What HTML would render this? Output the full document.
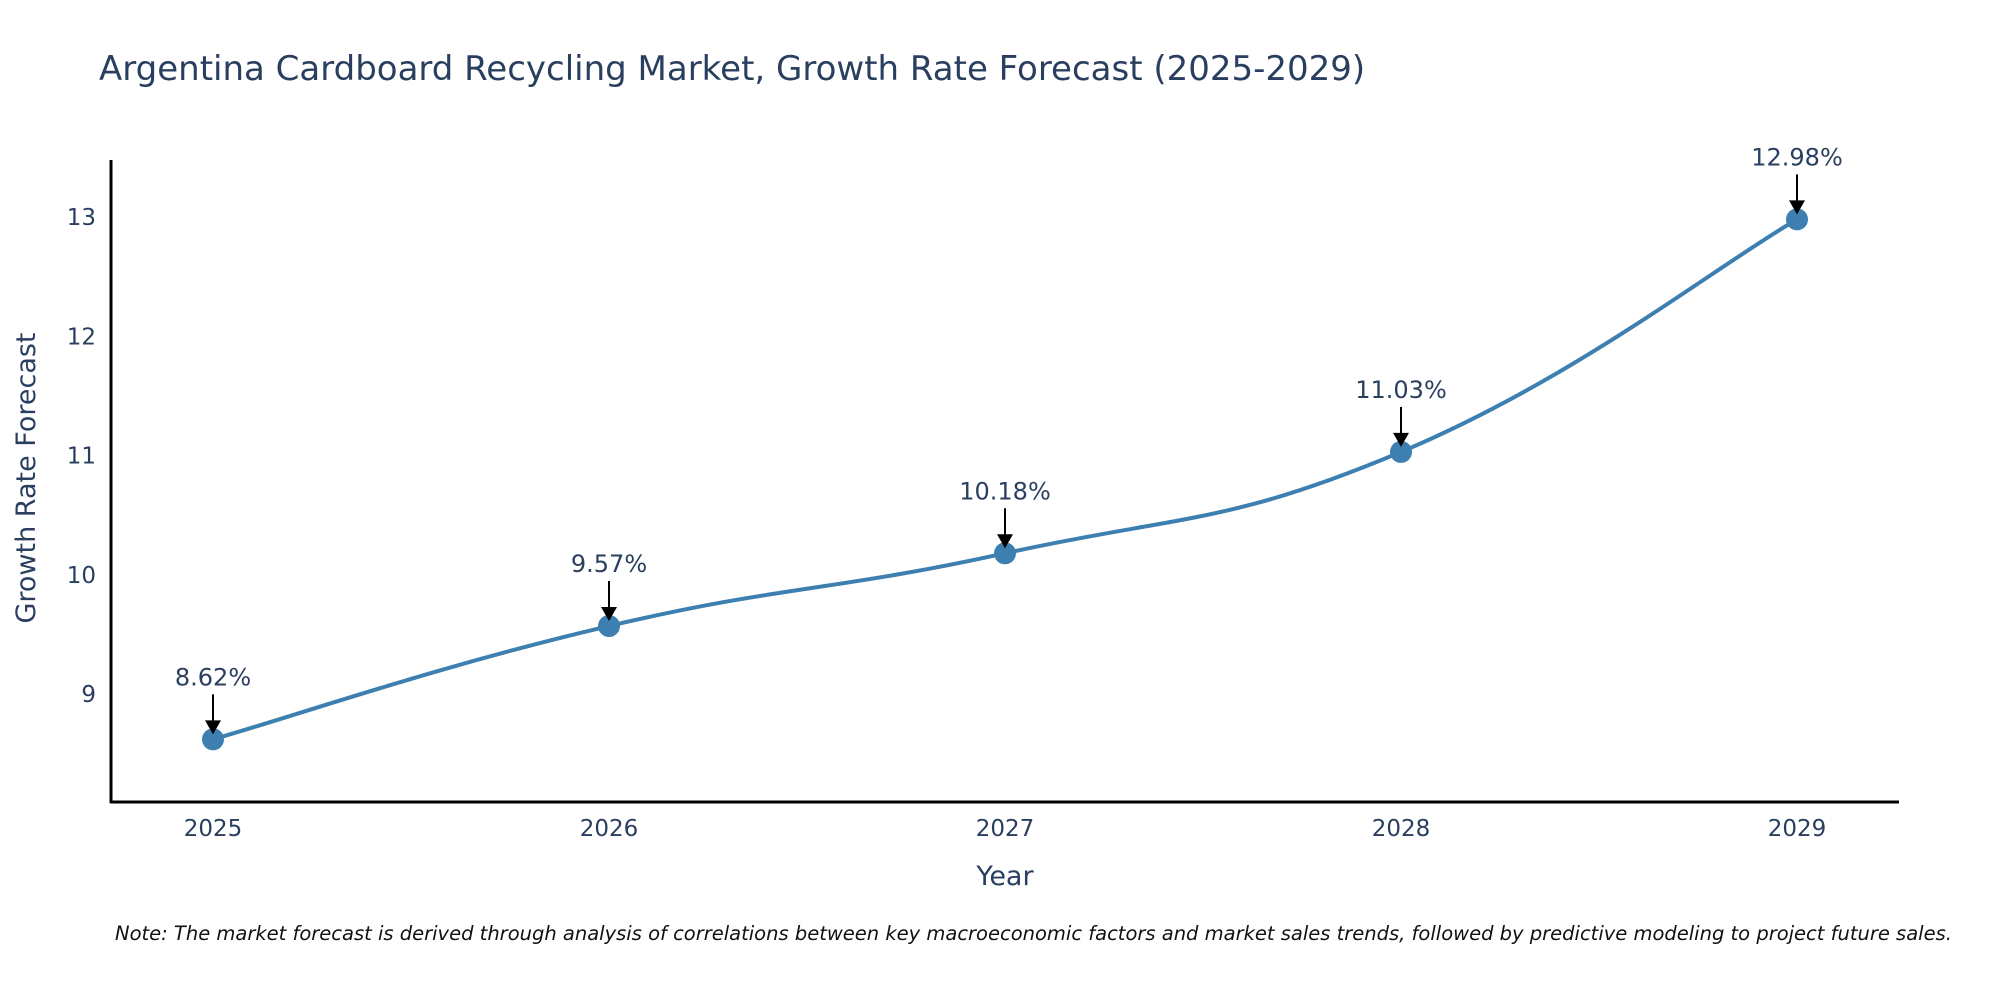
<!DOCTYPE html>
<html><head><meta charset="utf-8"><style>
body{margin:0;background:#fff;overflow:hidden;}
svg{display:block;font-family:"DejaVu Sans","Liberation Sans",sans-serif;}
</style></head><body>
<svg id="chart" width="2000" height="1000" viewBox="0 0 2000 1000">
<text x="99" y="80" font-size="34" fill="#2a3f5f">Argentina Cardboard Recycling Market, Growth Rate Forecast (2025-2029)</text>
<g id="yticks"></g>
<g id="xticks"></g>
<line x1="111" y1="160" x2="111" y2="803" stroke="#000" stroke-width="3"/>
<line x1="110" y1="802" x2="1899" y2="802" stroke="#000" stroke-width="3"/>
<path id="line" fill="none" stroke="#3d7fb0" stroke-width="4"/>
<g id="marks"></g>
<text x="1005" y="885" font-size="27" fill="#2a3f5f" text-anchor="middle">Year</text>
<text transform="translate(35,478) rotate(-90)" font-size="27" fill="#2a3f5f" text-anchor="middle">Growth Rate Forecast</text>
<text x="115" y="940" font-size="19.5" font-style="italic" fill="#111">Note: The market forecast is derived through analysis of correlations between key macroeconomic factors and market sales trends, followed by predictive modeling to project future sales.</text>
</svg>
<script>
const years = [2025, 2026, 2027, 2028, 2029];
const values = [8.62, 9.57, 10.18, 11.03, 12.98];
const labels = ["8.62%", "9.57%", "10.18%", "11.03%", "12.98%"];
const yTicks = [9, 10, 11, 12, 13];

const NS = "http://www.w3.org/2000/svg";
function xs(y){ return 213 + (y - 2025) * (1797 - 213) / 4; }
function ys(v){ return 694 - (v - 9) * (694 - 217) / 4; }
function mk(tag, attrs, parent){ const e=document.createElementNS(NS,tag); for(const k in attrs) e.setAttribute(k,attrs[k]); parent.appendChild(e); return e; }

const yg=document.getElementById('yticks');
yTicks.forEach(t=>{
  const e=mk('text',{x:96,y:ys(t)+8,'font-size':23,fill:'#2a3f5f','text-anchor':'end'},yg);
  
  
  e.textContent=t;
});
const xg=document.getElementById('xticks');
years.forEach(y=>{
  const e=mk('text',{x:xs(y),y:836,'font-size':23,fill:'#2a3f5f','text-anchor':'middle'},xg);
  
  
  e.textContent=y;
});

const pts=years.map((y,i)=>[xs(y),ys(values[i])]);
let d='M'+pts[0][0]+','+pts[0][1];
for(let i=0;i<pts.length-1;i++){
  const p0=pts[Math.max(i-1,0)],p1=pts[i],p2=pts[i+1],p3=pts[Math.min(i+2,pts.length-1)];
  const t=0.22;
  const c1=[p1[0]+(p2[0]-p0[0])*t,p1[1]+(p2[1]-p0[1])*t];
  const c2=[p2[0]-(p3[0]-p1[0])*t,p2[1]-(p3[1]-p1[1])*t];
  d+=` C${c1[0]},${c1[1]} ${c2[0]},${c2[1]} ${p2[0]},${p2[1]}`;
}
document.getElementById('line').setAttribute('d',d);

const mg=document.getElementById('marks');
pts.forEach((p,i)=>{
  const c=mk('circle',{cx:p[0],cy:p[1],r:11,fill:'#3d7fb0'},mg);
  
  
  const l=mk('line',{x1:p[0],y1:p[1]-45,x2:p[0],y2:p[1]-14,stroke:'#000','stroke-width':2},mg);
  
  
  const a=mk('polygon',{points:`${p[0]-8},${p[1]-19} ${p[0]+8},${p[1]-19} ${p[0]},${p[1]-5}`,fill:'#000'},mg);
  
  
  const t=mk('text',{x:p[0],y:p[1]-54,'font-size':24,fill:'#2a3f5f','text-anchor':'middle'},mg);
  
  
  t.textContent=labels[i];
});
</script>
</body></html>
